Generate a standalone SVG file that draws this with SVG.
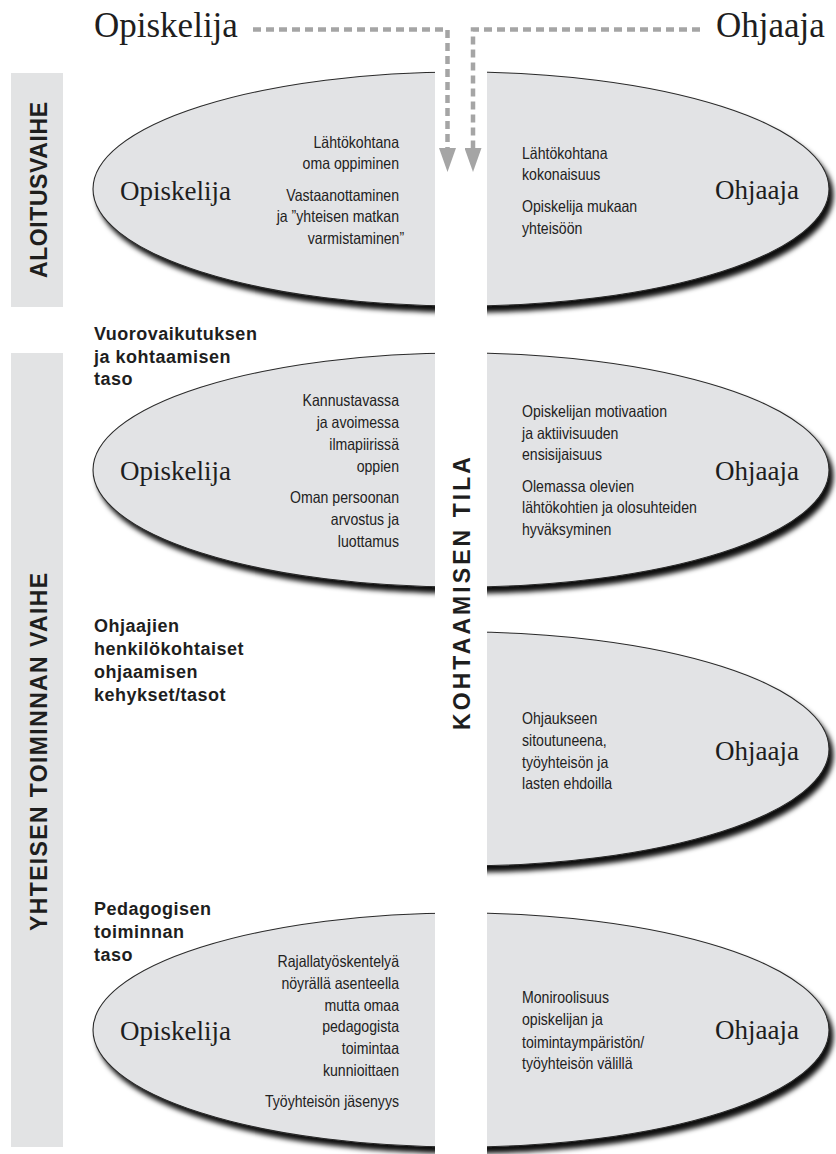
<svg xmlns="http://www.w3.org/2000/svg" width="836" height="1154" viewBox="0 0 836 1154">
<style>
.bg{fill:#ffffff}
.side{fill:#e2e3e4}
.ell{fill:#e2e3e5;stroke:#2a2a2a;stroke-width:1.1}
.serif{font-family:"Liberation Serif","Times New Roman",serif;fill:#1e1e1e}
.title{font-size:35px}
.lab{font-size:27px}
.cond{font-family:"Liberation Sans",Arial,sans-serif;font-size:16.5px;fill:#222}
.bold{font-family:"Liberation Sans",Arial,sans-serif;font-weight:bold;font-size:18px;letter-spacing:0.5px;fill:#1e1e1e}
.vert{font-family:"Liberation Sans",Arial,sans-serif;font-weight:bold;font-size:23px;fill:#1e1e1e}
.dash{fill:none;stroke:#a5a5a5;stroke-width:4.5;stroke-dasharray:8 5}
</style>
<defs>
<filter id="shadow" x="-10%" y="-15%" width="125%" height="140%">
<feDropShadow dx="4" dy="6" stdDeviation="2.6" flood-color="#000" flood-opacity="0.95"/>
</filter>
<clipPath id="rightHalf"><rect x="480" y="600" width="356" height="300"/></clipPath>
<marker id="arrow" viewBox="0 0 24 17" refX="0" refY="8.5" markerWidth="24" markerHeight="17" markerUnits="userSpaceOnUse" orient="auto">
<path d="M0,0 L24,8.5 L0,17 z" fill="#a5a5a5"/>
</marker>
</defs>
<rect class="bg" x="0" y="0" width="836" height="1154"/>

<g id="title-opiskelija"><text class="serif title" x="94" y="37">Opiskelija</text></g>
<g id="title-ohjaaja"><text class="serif title" x="716" y="37">Ohjaaja</text></g>

<g id="phase-aloitusvaihe">
<rect class="side" x="11" y="73" width="52" height="234"/>
<text class="vert" transform="translate(47 190) rotate(-90)" text-anchor="middle" textLength="176" lengthAdjust="spacing">ALOITUSVAIHE</text>
</g>
<g id="phase-yhteisen">
<rect class="side" x="11" y="353" width="52" height="794"/>
<text class="vert" transform="translate(47 752) rotate(-90)" text-anchor="middle" textLength="358" lengthAdjust="spacing">YHTEISEN TOIMINNAN VAIHE</text>
</g>

<g id="level-vuorovaikutus">
<text class="bold"><tspan x="94" y="340">Vuorovaikutuksen</tspan><tspan x="94" y="363">ja kohtaamisen</tspan><tspan x="94" y="385">taso</tspan></text>
</g>
<g id="level-kehykset">
<text class="bold"><tspan x="94" y="632">Ohjaajien</tspan><tspan x="94" y="655">henkilökohtaiset</tspan><tspan x="94" y="678">ohjaamisen</tspan><tspan x="94" y="701">kehykset/tasot</tspan></text>
</g>
<g id="level-pedagoginen">
<text class="bold"><tspan x="94" y="915">Pedagogisen</tspan><tspan x="94" y="938">toiminnan</tspan><tspan x="94" y="961">taso</tspan></text>
</g>

<g id="ellipse-aloitus">
<ellipse class="ell" cx="461" cy="189" rx="368" ry="117" filter="url(#shadow)"/>
<text class="serif lab" x="120" y="200">Opiskelija</text>
<text class="serif lab" x="715" y="199">Ohjaaja</text>
<g transform="translate(399 0) scale(0.855 1)">
<text class="cond" text-anchor="end"><tspan x="0" y="148">Lähtökohtana</tspan><tspan x="0" y="169">oma oppiminen</tspan><tspan x="0" y="201">Vastaanottaminen</tspan><tspan x="0" y="222">ja ”yhteisen matkan</tspan><tspan x="6" y="244">varmistaminen”</tspan></text>
</g>
<g transform="translate(522 0) scale(0.855 1)">
<text class="cond"><tspan x="0" y="159">Lähtökohtana</tspan><tspan x="0" y="180">kokonaisuus</tspan><tspan x="0" y="212">Opiskelija mukaan</tspan><tspan x="0" y="234">yhteisöön</tspan></text>
</g>
</g>

<g id="ellipse-vuorovaikutus">
<ellipse class="ell" cx="461" cy="470" rx="368" ry="117" filter="url(#shadow)"/>
<text class="serif lab" x="120" y="480">Opiskelija</text>
<text class="serif lab" x="715" y="480">Ohjaaja</text>
<g transform="translate(399 0) scale(0.855 1)">
<text class="cond" text-anchor="end"><tspan x="0" y="406">Kannustavassa</tspan><tspan x="0" y="428">ja avoimessa</tspan><tspan x="0" y="450">ilmapiirissä</tspan><tspan x="0" y="472">oppien</tspan><tspan x="0" y="503">Oman persoonan</tspan><tspan x="0" y="525">arvostus ja</tspan><tspan x="0" y="547">luottamus</tspan></text>
</g>
<g transform="translate(522 0) scale(0.855 1)">
<text class="cond"><tspan x="0" y="417">Opiskelijan motivaation</tspan><tspan x="0" y="439">ja aktiivisuuden</tspan><tspan x="0" y="460">ensisijaisuus</tspan><tspan x="0" y="492">Olemassa olevien</tspan><tspan x="0" y="513">lähtökohtien ja olosuhteiden</tspan><tspan x="0" y="535">hyväksyminen</tspan></text>
</g>
</g>

<g id="ellipse-kehykset">
<g clip-path="url(#rightHalf)">
<ellipse class="ell" cx="461" cy="749" rx="368" ry="117" filter="url(#shadow)"/>
</g>
<text class="serif lab" x="715" y="760">Ohjaaja</text>
<g transform="translate(522 0) scale(0.855 1)">
<text class="cond"><tspan x="0" y="724">Ohjaukseen</tspan><tspan x="0" y="746">sitoutuneena,</tspan><tspan x="0" y="768">työyhteisön ja</tspan><tspan x="0" y="789">lasten ehdoilla</tspan></text>
</g>
</g>

<g id="ellipse-pedagoginen">
<ellipse class="ell" cx="461" cy="1030" rx="368" ry="117" filter="url(#shadow)"/>
<text class="serif lab" x="120" y="1040">Opiskelija</text>
<text class="serif lab" x="715" y="1039">Ohjaaja</text>
<g transform="translate(399 0) scale(0.855 1)">
<text class="cond" text-anchor="end"><tspan x="0" y="967">Rajallatyöskentelyä</tspan><tspan x="0" y="989">nöyrällä asenteella</tspan><tspan x="0" y="1011">mutta omaa</tspan><tspan x="0" y="1032">pedagogista</tspan><tspan x="0" y="1054">toimintaa</tspan><tspan x="0" y="1076">kunnioittaen</tspan><tspan x="0" y="1107">Työyhteisön jäsenyys</tspan></text>
</g>
<g transform="translate(522 0) scale(0.855 1)">
<text class="cond"><tspan x="0" y="1003">Moniroolisuus</tspan><tspan x="0" y="1025">opiskelijan ja</tspan><tspan x="0" y="1048">toimintaympäristön/</tspan><tspan x="0" y="1069">työyhteisön välillä</tspan></text>
</g>
</g>

<g id="kohtaamisen-tila">
<rect class="bg" x="435" y="55" width="52" height="1099"/>
<text class="vert" transform="translate(470 593.5) rotate(-90)" text-anchor="middle" textLength="273" lengthAdjust="spacing">KOHTAAMISEN TILA</text>
</g>

<g id="connectors">
<path class="dash" d="M253,29.5 H447.5 V148" marker-end="url(#arrow)"/>
<path class="dash" d="M700,29.5 H473 V148" marker-end="url(#arrow)"/>
</g>
</svg>
